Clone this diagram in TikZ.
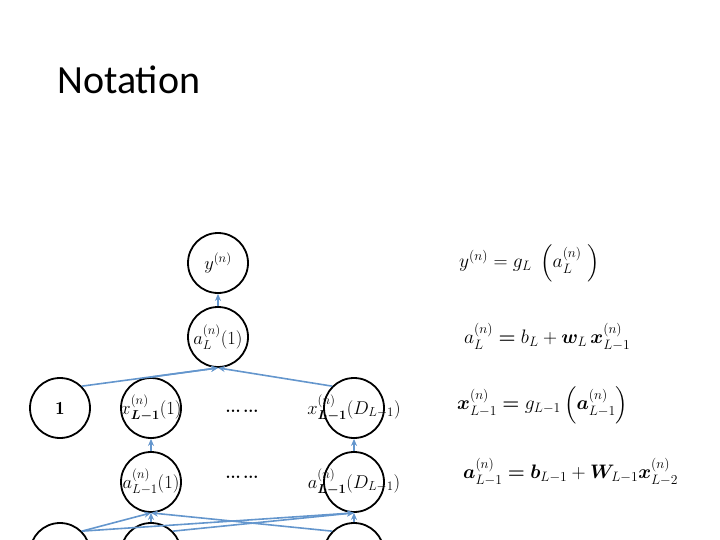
\documentclass[tikz,border=0pt]{standalone}
\usepackage{fix-cm}
\usepackage{fontspec}
\usepackage{amsmath,bm}
\newfontfamily\titlefont{Carlito}
\usetikzlibrary{arrows.meta}
\definecolor{edgeblue}{RGB}{100,150,205}
\tikzset{
  neuron/.style={circle,draw=black,line width=1.8pt,minimum size=60pt,inner sep=0pt},
  conn/.style={draw=edgeblue,line width=1.6pt,-{Stealth[length=7pt,width=6pt]}},
  eq/.style={anchor=west,inner sep=0pt,font=\fontsize{19.5}{23}\selectfont},
  dots/.style={inner sep=0pt,font=\fontsize{30}{34}\selectfont}
}
\begin{document}
\begin{tikzpicture}[x=1pt,y=-1pt,every label/.style={font=\fontsize{18.5}{22}\selectfont}]
\useasboundingbox (0,0) rectangle (720,540);
\clip (0,0) rectangle (720,540);
\node[anchor=west,inner sep=0pt,font=\titlefont\fontsize{40}{44}\selectfont] (title) at (57,80) {Notation};

\node[neuron,label={center:$y^{(n)}$}] (y) at (218,263) {};
\node[neuron,label={center:$a_L^{(n)}(1)$}] (aL) at (218,337) {};
\node[neuron,label={center:$\mathbf{1}$}] (one) at (60,408) {};
\node[neuron,label={center:$x_{\bm{L-1}}^{(n)}(1)$}] (x1) at (151,408) {};
\node[neuron,label={center:$x_{\bm{L-1}}^{(n)}(D_{L-1})$}] (xD) at (354,408) {};
\node[neuron,label={center:$a_{L-1}^{(n)}(1)$}] (a1) at (151,482) {};
\node[neuron,label={center:$a_{\bm{L-1}}^{(n)}(D_{L-1})$}] (aD) at (354,482) {};
\node[neuron] (b1) at (60,553) {};
\node[neuron] (b2) at (151,553) {};
\node[neuron] (b3) at (354,553) {};
\node[dots] (d1) at (242,411) {\dots\dots};
\node[dots] (d2) at (242,477) {\dots\dots};

\draw[conn] (aL) -- (y);
\draw[conn] (one.north east) -- (aL.south);
\draw[conn] (x1.north) -- (aL.south);
\draw[conn] (xD.north west) -- (aL.south);
\draw[conn] (a1) -- (x1);
\draw[conn] (aD) -- (xD);
\draw[conn] (b1.north east) -- (a1.south);
\draw[conn] (b1.north east) -- (aD.south);
\draw[conn] (b2.north) -- (a1.south);
\draw[conn] (b2.north east) -- (aD.south);
\draw[conn] (b3.north west) -- (a1.south);
\draw[conn] (b3.north) -- (aD.south);

\node[eq] (e1) at (459,263) {$y^{(n)} = g_L\;\left(a_L^{(n)}\;\right)$};
\node[eq] (e2) at (464,337) {$a_L^{(n)} \mathrel{\bm{=}} b_L + \bm{w}_L\,\bm{x}_{L-1}^{(n)}$};
\node[eq] (e3) at (457,405) {$\bm{x}_{L-1}^{(n)} \mathrel{\bm{=}} g_{L-1}\left(\bm{a}_{L-1}^{(n)}\right)$};
\node[eq] (e4) at (463,472) {$\bm{a}_{L-1}^{(n)} \mathrel{\bm{=}} \bm{b}_{L-1} + \bm{W}_{L-1}\bm{x}_{L-2}^{(n)}$};
\end{tikzpicture}
\end{document}
